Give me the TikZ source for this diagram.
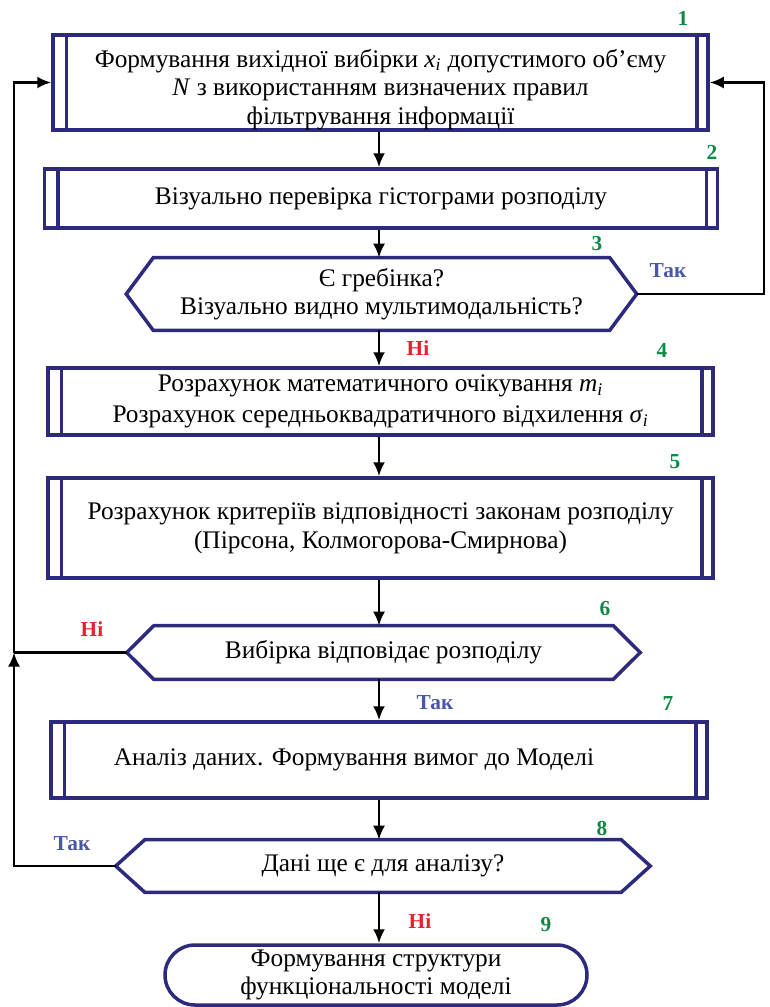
\documentclass[tikz,border=0pt]{standalone}
\usepackage{fontspec}
\setmainfont{Liberation Serif}
\usetikzlibrary{arrows.meta,shapes.misc}
\definecolor{navy}{HTML}{2D2A7E}
\definecolor{numgreen}{HTML}{0B8A43}
\definecolor{takblue}{HTML}{4A56A6}
\definecolor{nired}{HTML}{E8202F}
\def\pxu{0.75pt}
\newcommand\fs{\fontsize{19}{21.5}\selectfont}
\newcommand\lfs{\fontsize{16}{18}\selectfont\bfseries}
\newcommand\sub[1]{\textsubscript{\textit{#1}}}
\begin{document}
\begin{tikzpicture}[x=0.75pt,y=-0.75pt,
  box/.style={draw=navy,line width=3.5*\pxu,fill=white,align=center,inner sep=0pt,font=\fs},
  hexnode/.style={align=center,inner sep=0pt,font=\fs},
  outline/.style={draw=navy,line width=3.5*\pxu,line join=miter},
  term/.style={rounded rectangle,draw=navy,line width=3.5*\pxu,align=center,inner sep=0pt,font=\fs},
  conn/.style={draw=black,line width=2.5*\pxu},
  arr/.style={conn,-{Latex[length=14*\pxu,width=12*\pxu]}},
  num/.style={text=numgreen,font=\lfs},
  yes/.style={text=takblue,font=\lfs},
  no/.style={text=nired,font=\lfs}]
\useasboundingbox (0,0) rectangle (770,1007);

% process boxes
\node[box,minimum width=655*\pxu,minimum height=91*\pxu] (b1) at (380.5,82.5)
  {\rule{0pt}{24pt}Формування вихідної вибірки \textit{x}\sub{i} допустимого об’єму\\
   \textit{N} з використанням визначених правил\\ фільтрування інформації};
\node[box,minimum width=673*\pxu,minimum height=59*\pxu] (b2) at (381,198.5)
  {Візуально перевірка гістограми розподілу};
\node[box,minimum width=665*\pxu,minimum height=67*\pxu] (b4) at (380.5,401.5)
  {Розрахунок математичного очікування \textit{m}\sub{i}\\[2pt]
   Розрахунок середньоквадратичного відхилення \textit{σ}\sub{i}};
\node[box,minimum width=665*\pxu,minimum height=100*\pxu] (b5) at (380.5,528)
  {Розрахунок критеріїв відповідності законам розподілу\\
   (Пірсона, Колмогорова-Смирнова)};
\node[box,minimum width=656*\pxu,minimum height=76*\pxu] (b7) at (379,760)
  {Аналіз даних. Формування вимог до Моделі\hspace*{37.5pt}};

\foreach \b in {b1,b2,b4,b5,b7}{
  \draw[outline] ([xshift=15*\pxu]\b.north west) -- ([xshift=15*\pxu]\b.south west);
  \draw[outline] ([xshift=-13*\pxu]\b.north east) -- ([xshift=-13*\pxu]\b.south east);
}

% decision hexagons
\node[hexnode,minimum width=510*\pxu,minimum height=72*\pxu] (h3) at (381.5,294)
  {Є гребінка?\\ Візуально видно мультимодальність?};
\node[hexnode,minimum width=513*\pxu,minimum height=53*\pxu] (h6) at (383.5,652.5)
  {Вибірка відповідає розподілу};
\node[hexnode,minimum width=534*\pxu,minimum height=52*\pxu] (h8) at (383,866)
  {Дані ще є для аналізу?};

\foreach \h/\d in {h3/27,h6/27,h8/29}{
  \draw[outline] ([xshift=\d*\pxu]\h.north west) -- ([xshift=-\d*\pxu]\h.north east)
    -- (\h.east) -- ([xshift=-\d*\pxu]\h.south east) -- ([xshift=\d*\pxu]\h.south west)
    -- (\h.west) -- cycle;
}

% terminal
\node[term,minimum width=422*\pxu,minimum height=60*\pxu] (t9) at (376,975)
  {Формування структури\\ функціональності моделі};

% junction coordinates
\coordinate (jr) at (764,294);
\coordinate (jl) at (14,652.5);

% connectors
\draw[arr] (b1.south -| 379,0) -- (b2.north -| 379,0);
\draw[arr] (b2.south -| 379,0) -- (h3.north -| 379,0);
\draw[arr] (h3.south -| 379,0) -- (b4.north -| 379,0);
\draw[arr] (b4.south -| 379,0) -- (b5.north -| 379,0);
\draw[arr] (b5.south -| 379,0) -- (h6.north -| 379,0);
\draw[arr] (h6.south -| 379,0) -- (b7.north -| 379,0);
\draw[arr] (b7.south -| 379,0) -- (h8.north -| 379,0);
\draw[arr] (h8.south -| 379,0) -- (t9.north -| 379,0);

\draw[arr] (h3.east) -- (jr) |- (b1.east);
\draw[conn] (h6.west) -- (jl);
\draw[arr] (h8.west) -| (jl);
\draw[arr] (jl) |- (b1.west);

% labels
\node[num] (n1) at (683,18) {1};
\node[num] (n2) at (712,152) {2};
\node[num] (n3) at (597,244) {3};
\node[num] (n4) at (662,350) {4};
\node[num] (n5) at (675,462) {5};
\node[num] (n6) at (605,609) {6};
\node[num] (n7) at (668,704) {7};
\node[num] (n8) at (602,828) {8};
\node[num] (n9) at (546,925) {9};

\node[yes] (y3) at (668,271) {Так};
\node[no] (x3) at (418,348) {Ні};
\node[no] (x6) at (92,629) {Ні};
\node[yes] (y6) at (435,703) {Так};
\node[yes] (y8) at (72,844) {Так};
\node[no] (x8) at (420,921) {Ні};
\end{tikzpicture}
\end{document}
